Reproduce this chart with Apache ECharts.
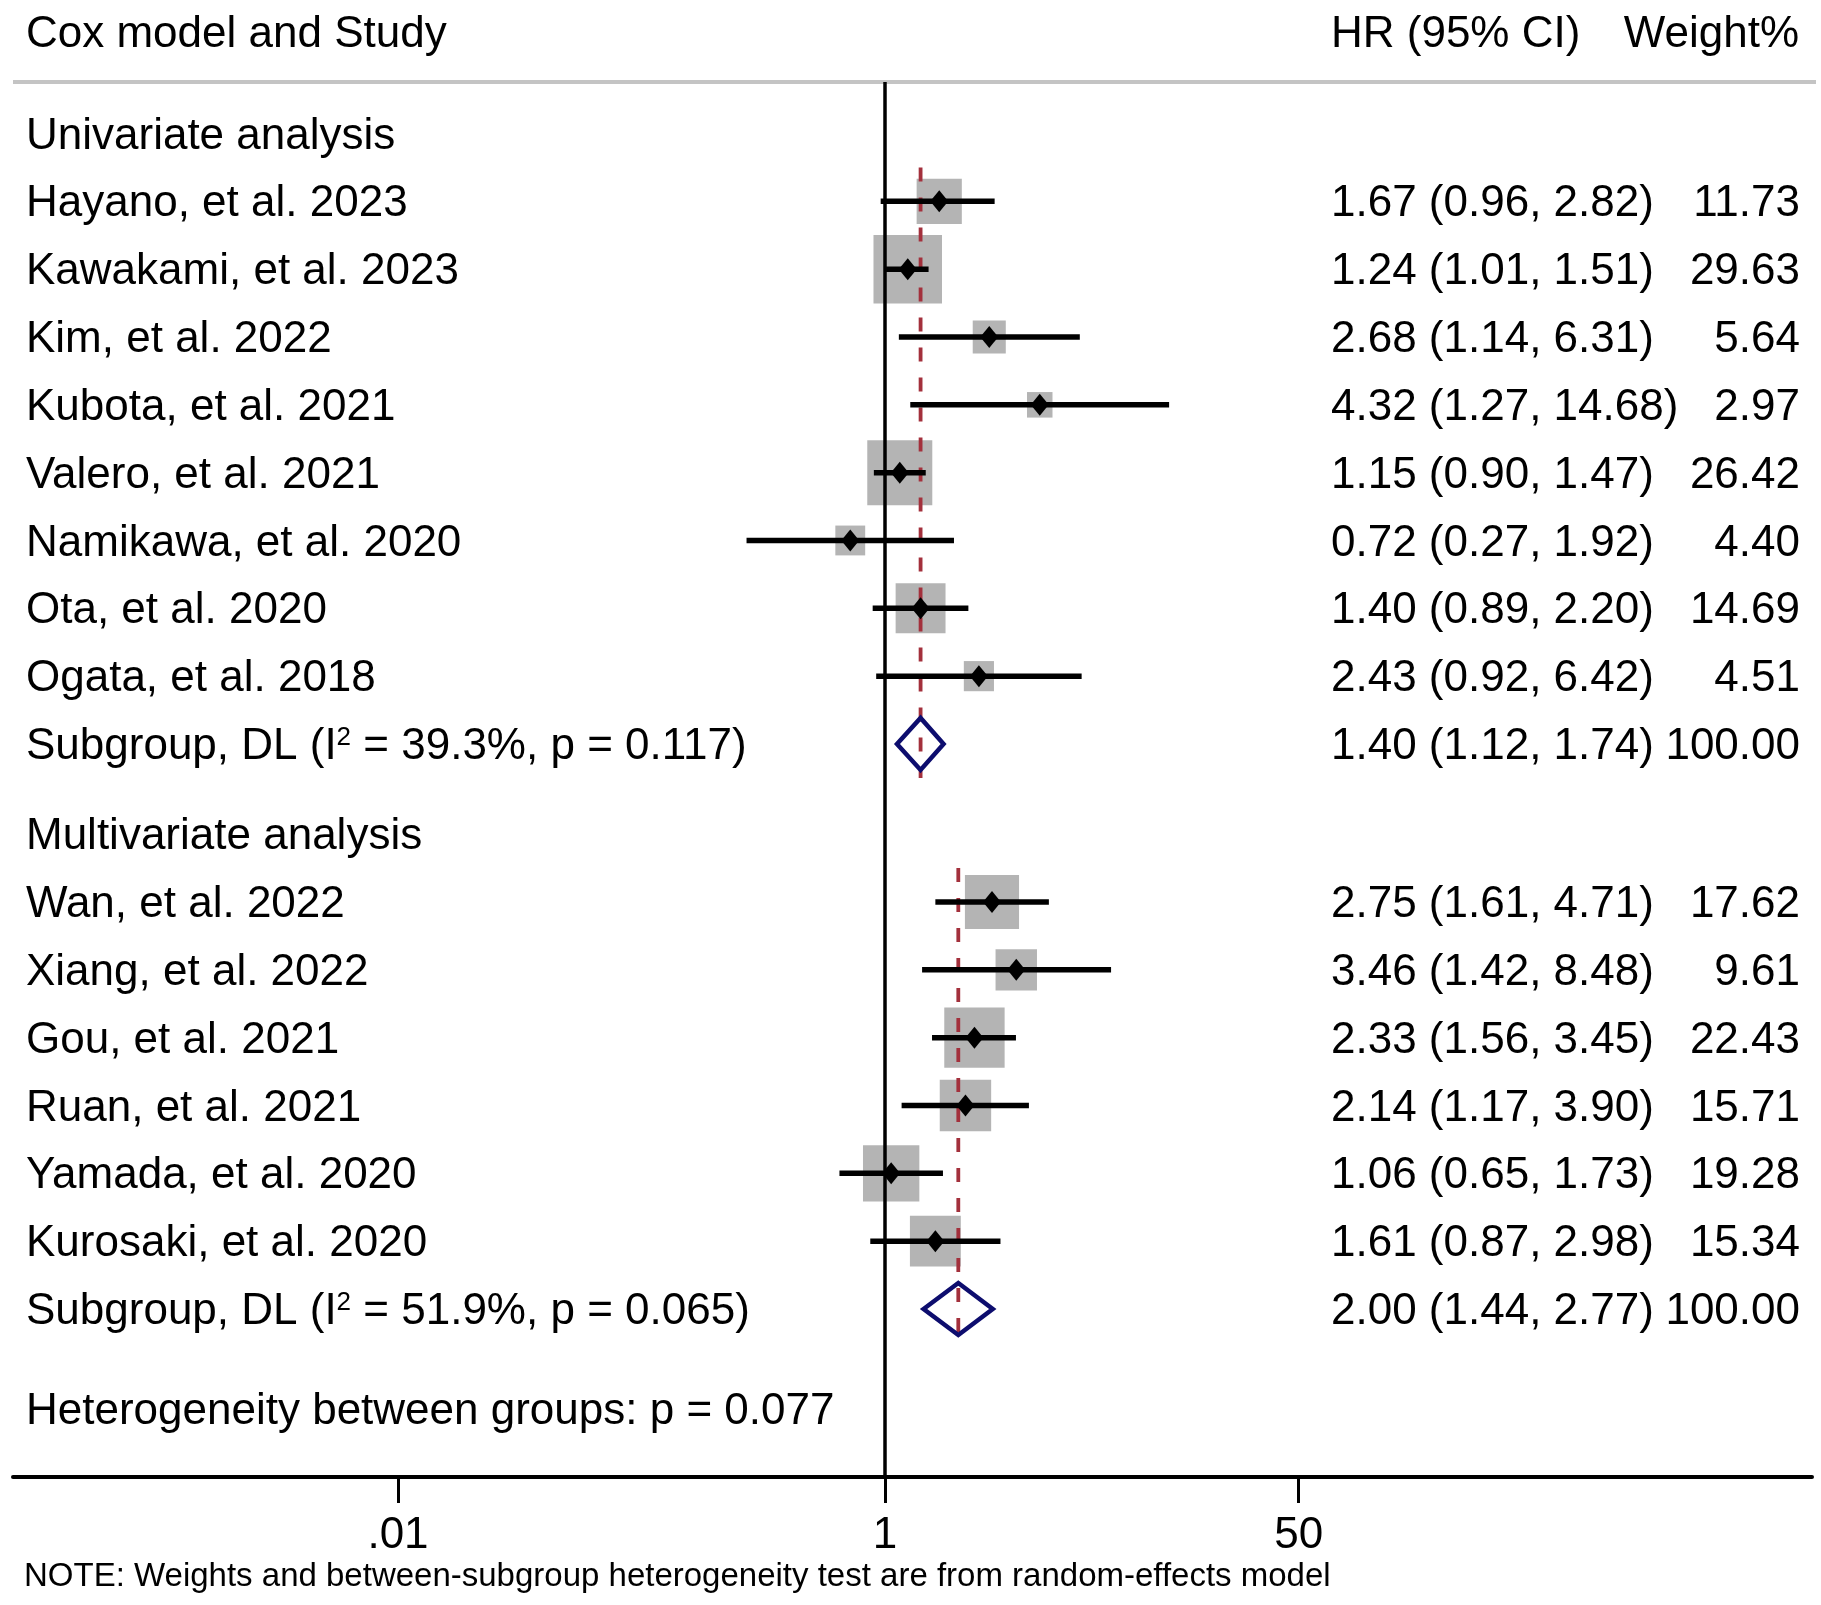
<!DOCTYPE html>
<html>
<head>
<meta charset="utf-8">
<title>Forest plot</title>
<script src="https://cdn.jsdelivr.net/npm/echarts@6/dist/echarts.min.js"></script>
<style>
  html, body { margin: 0; padding: 0; background: #fff; }
  #chart { width: 1821px; height: 1605px; }
</style>
</head>
<body>
<div id="chart"></div>
<script>
// 数据：单因素
const uniStudy = ['Hayano, et al. 2023', 'Kawakami, et al. 2023', 'Kim, et al. 2022', 'Kubota, et al. 2021',
  'Valero, et al. 2021', 'Namikawa, et al. 2020', 'Ota, et al. 2020', 'Ogata, et al. 2018']
const uniHR = [1.67, 1.24, 2.68, 4.32, 1.15, 0.72, 1.40, 2.43]
const uniLow = [0.96, 1.01, 1.14, 1.27, 0.90, 0.27, 0.89, 0.92]
const uniHigh = [2.82, 1.51, 6.31, 14.68, 1.47, 1.92, 2.20, 6.42]
const uniWeight = [11.73, 29.63, 5.64, 2.97, 26.42, 4.40, 14.69, 4.51]
const uniPooled = [1.40, 1.12, 1.74]

// 数据：多因素
const multiStudy = ['Wan, et al. 2022', 'Xiang, et al. 2022', 'Gou, et al. 2021', 'Ruan, et al. 2021',
  'Yamada, et al. 2020', 'Kurosaki, et al. 2020']
const multiHR = [2.75, 3.46, 2.33, 2.14, 1.06, 1.61]
const multiLow = [1.61, 1.42, 1.56, 1.17, 0.65, 0.87]
const multiHigh = [4.71, 8.48, 3.45, 3.90, 1.73, 2.98]
const multiWeight = [17.62, 9.61, 22.43, 15.71, 19.28, 15.34]
const multiPooled = [2.00, 1.44, 2.77]

const groupTitles = ['Univariate analysis', 'Multivariate analysis']
const subgroupI2 = [39.3, 51.9]
const subgroupP = [0.117, 0.065]
const betweenP = 0.077
const xTicks = [0.01, 1, 50]

// 布局
const FONT = '"Liberation Sans", Arial, Helvetica, sans-serif'
const ROW0 = 133.5, ROW_H = 67.83
const GRID_T = 82, GRID_B = 1477
const PX_ONE = 885, PX_DEC = 243.5, GRID_L = 13, GRID_R = 1812
const TEXT_DY = 3   // 文字基线微调
const xMin = Math.pow(10, (GRID_L - PX_ONE) / PX_DEC)
const xMax = Math.pow(10, (GRID_R - PX_ONE) / PX_DEC)

const fmtCI = (h, l, u) => `${h.toFixed(2)} (${l.toFixed(2)}, ${u.toFixed(2)})`

let rows = []
let studies = []   // [hr, lo, hi, pos, weight]
let pooled = []    // [hr, lo, hi, pos, firstPos]

function addGroup(g, start, names, hr, lo, hi, w, pool) {
  rows.push({pos: start, label: groupTitles[g]})
  names.forEach((n, i) => {
    const p = start + 1 + i
    rows.push({pos: p, label: n, hr: fmtCI(hr[i], lo[i], hi[i]), wt: w[i].toFixed(2)})
    studies.push([hr[i], lo[i], hi[i], p, w[i]])
  })
  const sp = start + names.length + 1
  rows.push({
    pos: sp,
    rich: `{t|Subgroup, DL (I}{s|2}{t| = ${subgroupI2[g].toFixed(1)}%, p = ${subgroupP[g].toFixed(3)})}`,
    hr: fmtCI(pool[0], pool[1], pool[2]), wt: '100.00'
  })
  pooled.push([pool[0], pool[1], pool[2], sp, start + 1])
  return sp
}

const end1 = addGroup(0, 0, uniStudy, uniHR, uniLow, uniHigh, uniWeight, uniPooled)
const end2 = addGroup(1, end1 + 1.33, multiStudy, multiHR, multiLow, multiHigh, multiWeight, multiPooled)
rows.push({pos: end2 + 1.47, label: `Heterogeneity between groups: p = ${betweenP.toFixed(3)}`})

const chart = echarts.init(document.getElementById('chart'))

const textStyle = {fontFamily: FONT, fontSize: 44, fill: '#000'}

const option = {
  animation: false,
  backgroundColor: '#fff',
  grid: {left: GRID_L, top: GRID_T, width: GRID_R - GRID_L, height: GRID_B - GRID_T, outerBoundsMode: 'none'},
  xAxis: {
    type: 'log', logBase: 10, min: xMin, max: xMax, position: 'bottom',
    axisLine: {show: true, onZero: false, lineStyle: {color: '#000', width: 4}},
    axisTick: {show: true, customValues: xTicks, length: 26, lineStyle: {color: '#000', width: 3}},
    axisLabel: {
      customValues: xTicks, margin: 37, fontSize: 44, fontFamily: FONT, color: '#000',
      formatter: v => (v < 1 ? String(v).replace(/^0/, '') : String(v))
    },
    splitLine: {show: false},
    minorTick: {show: false}
  },
  yAxis: {
    type: 'value', inverse: true, show: false,
    min: (GRID_T - ROW0) / ROW_H, max: (GRID_B - ROW0) / ROW_H
  },
  graphic: [
    {type: 'line', shape: {x1: GRID_L, y1: GRID_T, x2: 1816, y2: GRID_T},
      style: {stroke: '#c4c4c4', lineWidth: 4}, z: 1},
    {type: 'text', x: 26, y: 35, style: {...textStyle, text: 'Cox model and Study', verticalAlign: 'middle'}},
    {type: 'text', x: 1331, y: 35, style: {...textStyle, text: 'HR (95% CI)', verticalAlign: 'middle'}},
    {type: 'text', x: 1799, y: 35, style: {...textStyle, text: 'Weight%', align: 'right', verticalAlign: 'middle'}},
    {type: 'text', x: 24, y: 1577, style: {fontFamily: FONT, fontSize: 33, fill: '#000', verticalAlign: 'middle',
      text: 'NOTE: Weights and between-subgroup heterogeneity test are from random-effects model'}}
  ],
  series: [
    {
      // 权重方块
      name: 'box', type: 'scatter', z: 2, silent: true,
      symbol: 'rect',
      symbolSize: v => 11.56 * Math.sqrt(v[2]) + 5.6,
      itemStyle: {color: '#b4b4b4', opacity: 1},
      data: studies.map(s => [s[0], s[3], s[4]]),
      markLine: {
        silent: true, symbol: 'none', label: {show: false},
        lineStyle: {color: '#000', width: 3.5, type: 'solid'},
        data: [{xAxis: 1}]
      }
    },
    {
      // 合并效应虚线
      name: 'pooledLine', type: 'custom', z: 3, silent: true,
      encode: {x: 0, y: [1, 2]},
      data: pooled.map(p => [p[0], p[4] - 0.5, p[3] + 0.5]),
      renderItem: (params, api) => {
        const a = api.coord([api.value(0), api.value(1)])
        const b = api.coord([api.value(0), api.value(2)])
        return {
          type: 'line', shape: {x1: a[0], y1: a[1], x2: b[0], y2: b[1]},
          style: {stroke: '#a3303c', lineWidth: 3.8, lineDash: [14, 16]}
        }
      }
    },
    {
      // 置信区间
      name: 'ci', type: 'custom', z: 4, silent: true,
      encode: {x: [0, 1], y: 2},
      data: studies.map(s => [s[1], s[2], s[3]]),
      renderItem: (params, api) => {
        const a = api.coord([api.value(0), api.value(2)])
        const b = api.coord([api.value(1), api.value(2)])
        return {
          type: 'line', shape: {x1: a[0], y1: a[1], x2: b[0], y2: b[1]},
          style: {stroke: '#000', lineWidth: 5.5}
        }
      }
    },
    {
      name: 'point', type: 'scatter', z: 5, silent: true,
      symbol: 'diamond', symbolSize: [18, 22],
      itemStyle: {color: '#000', opacity: 1},
      data: studies.map(s => [s[0], s[3]])
    },
    {
      // 亚组合并菱形
      name: 'pooled', type: 'custom', z: 6, silent: true,
      encode: {x: [0, 1, 2], y: 3},
      data: pooled.map(p => [p[0], p[1], p[2], p[3]]),
      renderItem: (params, api) => {
        const c = api.coord([api.value(0), api.value(3)])
        const l = api.coord([api.value(1), api.value(3)])
        const r = api.coord([api.value(2), api.value(3)])
        const h = 26
        return {
          type: 'polygon',
          shape: {points: [[l[0], c[1]], [c[0], c[1] - h], [r[0], c[1]], [c[0], c[1] + h]]},
          style: {fill: 'none', stroke: '#0d0d6e', lineWidth: 4.5, lineJoin: 'miter'}
        }
      }
    },
    {
      // 文字列
      name: 'text', type: 'custom', z: 7, silent: true,
      encode: {x: 0, y: 1},
      data: rows.map(r => [1, r.pos]),
      renderItem: (params, api) => {
        const r = rows[params.dataIndex]
        const y = api.coord([1, api.value(1)])[1] + TEXT_DY
        const children = []
        if (r.rich) {
          children.push({type: 'text', x: 26, y, style: {
            text: r.rich, verticalAlign: 'middle', fontFamily: FONT,
            rich: {
              t: {fontFamily: FONT, fontSize: 44, lineHeight: 44, color: '#000'},
              s: {fontFamily: FONT, fontSize: 26, lineHeight: 10, verticalAlign: 'top', color: '#000'}
            }
          }})
        } else {
          children.push({type: 'text', x: 26, y, style: {...textStyle, text: r.label, verticalAlign: 'middle'}})
        }
        if (r.hr) {
          children.push({type: 'text', x: 1331, y, style: {...textStyle, text: r.hr, verticalAlign: 'middle'}})
          children.push({type: 'text', x: 1800, y, style: {...textStyle, text: r.wt, align: 'right', verticalAlign: 'middle'}})
        }
        return {type: 'group', children}
      }
    }
  ]
}

chart.setOption(option)
</script>
</body>
</html>
